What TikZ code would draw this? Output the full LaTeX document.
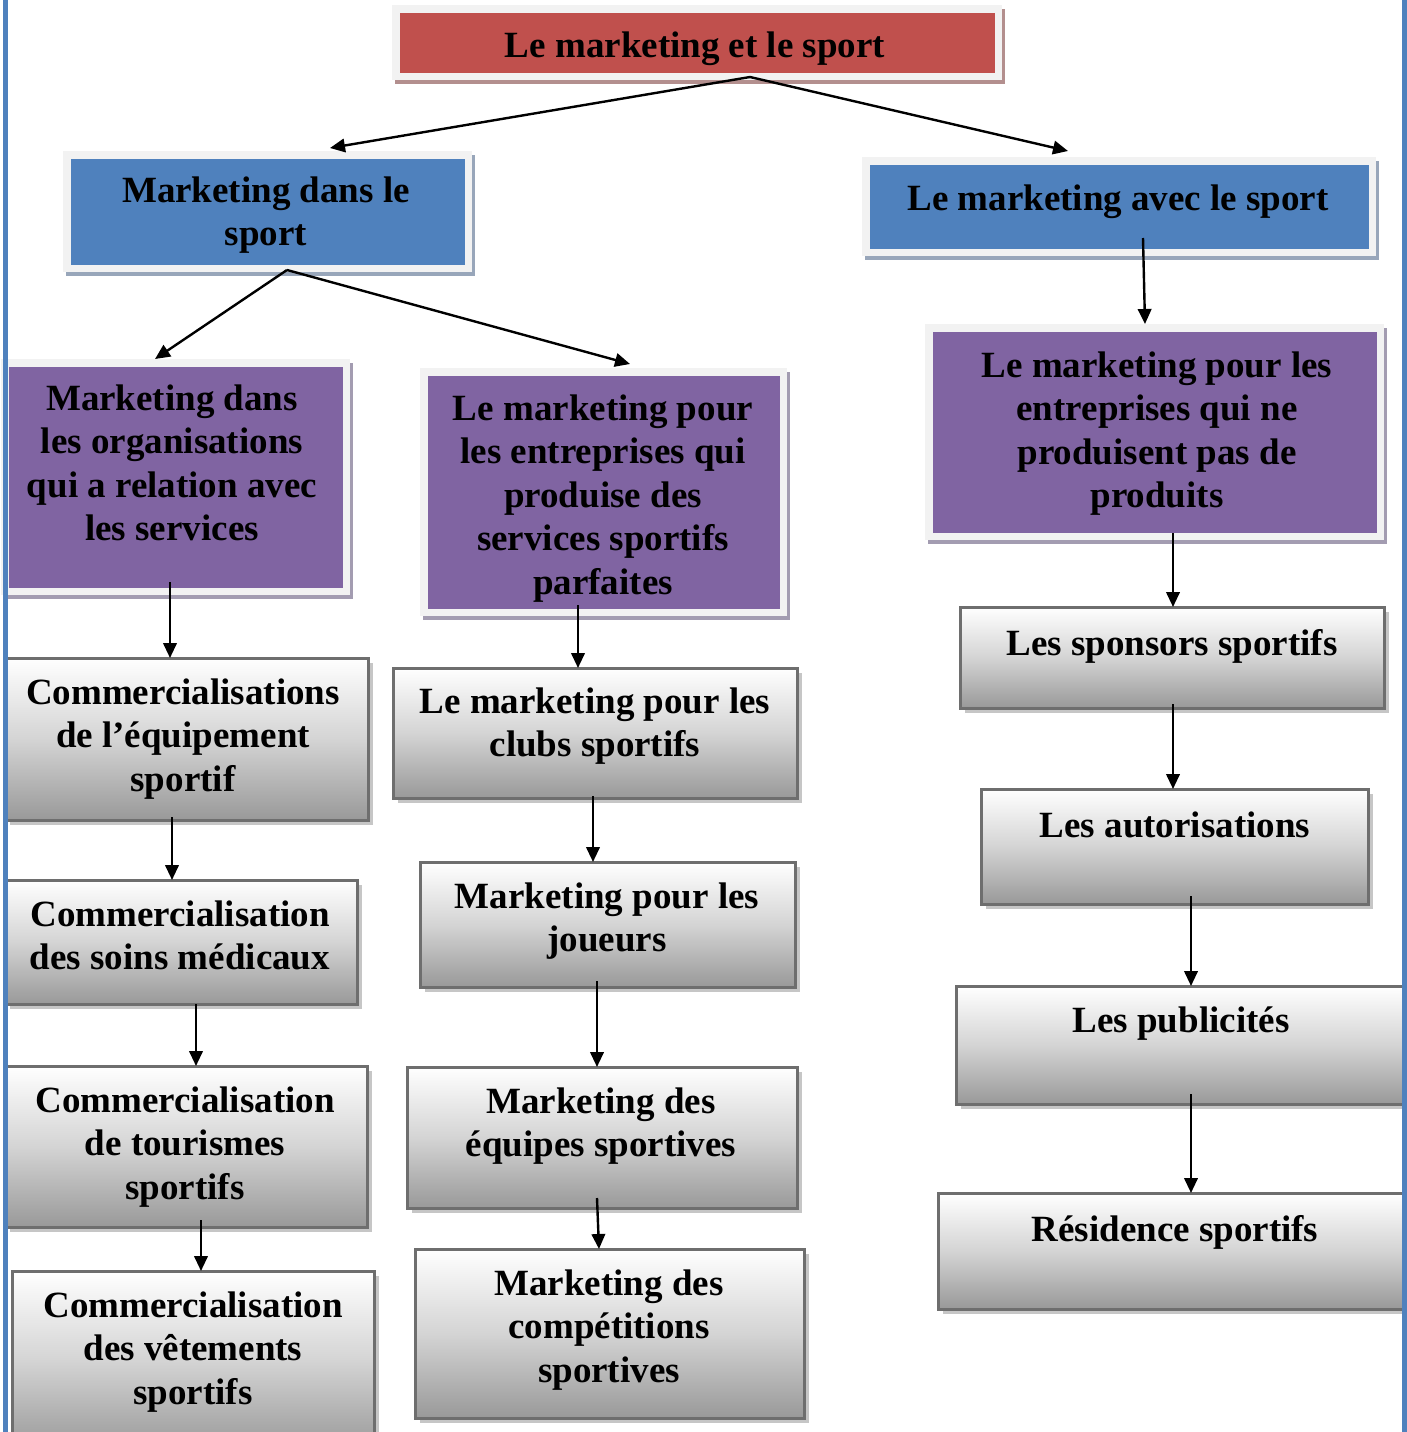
\documentclass[tikz,border=0pt]{standalone}
\usepackage{fontspec}
\setmainfont{Liberation Serif}
\usetikzlibrary{arrows.meta,shadows}

\definecolor{titlered}{HTML}{C0504D}
\definecolor{headblue}{HTML}{4F81BD}
\definecolor{subpurple}{HTML}{8064A2}
\definecolor{framegray}{HTML}{F2F2F2}
\definecolor{redshadow}{HTML}{B38F8E}
\definecolor{blueshadow}{HTML}{98A6BA}
\definecolor{purpleshadow}{HTML}{A39CB1}
\definecolor{boxedge}{HTML}{6E6E6E}
\definecolor{boxmid}{HTML}{D4D4D4}
\definecolor{boxbottom}{HTML}{999999}
\definecolor{boxshadow}{HTML}{C6C6C6}
\definecolor{pageline}{HTML}{4F81BD}

\tikzset{
  colorbox/.style 2 args={rectangle, anchor=north west, inner sep=0pt, outer sep=0pt,
    fill=framegray,
    drop shadow={shadow xshift=3pt, shadow yshift=-4pt, fill=#2, opacity=1},
    path picture={\fill[#1]
      ([shift={(7.5pt,-7.5pt)}]path picture bounding box.north west) rectangle
      ([shift={(-7.5pt,7.5pt)}]path picture bounding box.south east);}},
  graybox/.style={rectangle, anchor=north west, inner sep=0pt, outer sep=0pt,
    draw=boxedge, line width=3pt,
    top color=white, bottom color=boxbottom, middle color=boxmid,
    drop shadow={shadow xshift=5pt, shadow yshift=-5pt, fill=boxshadow, opacity=1}},
  boxtext/.style={anchor=north, inner sep=0pt, align=center,
    font=\fontsize{37}{43.5}\selectfont\bfseries},
  link/.style={line width=2.4pt, -{Triangle[length=15pt,width=13.5pt]}},
}

% #1 style, #2 name, #3/#4 top-left corner, #5/#6 bottom-right corner
\newcommand\PlaceBox[6]{%
  \node[#1, minimum width={(#5-#3)*1pt}, minimum height={(#6-#4)*1pt}] (#2) at (#3,#4) {};}
% #1 name, #2 centre x, #3 first baseline, #4 text
\newcommand\BoxText[4]{%
  \node[boxtext] (#1) at (#2,{#3-30}) {\rule{0pt}{30pt}#4};}

\begin{document}
\begin{tikzpicture}[x=1pt,y=-1pt]
\useasboundingbox (0,0) rectangle (1407,1432);

% coloured heading boxes
\PlaceBox{colorbox={titlered}{redshadow}}{top}{392}{5}{1002}{80}
\PlaceBox{colorbox={headblue}{blueshadow}}{mds}{63}{151}{472}{272}
\PlaceBox{colorbox={headblue}{blueshadow}}{mas}{862}{157}{1376}{256}
\PlaceBox{colorbox={subpurple}{purpleshadow}}{pa}{1}{359}{350}{595}
\PlaceBox{colorbox={subpurple}{purpleshadow}}{pb}{420}{368}{787}{616}
\PlaceBox{colorbox={subpurple}{purpleshadow}}{pc}{925}{324}{1384}{540}

% grey leaf boxes, left column
\PlaceBox{graybox}{ga}{5}{658}{368}{820}
\PlaceBox{graybox}{gb}{5}{880}{357}{1004}
\PlaceBox{graybox}{gc}{5}{1066}{367}{1227}
\PlaceBox{graybox}{gd}{12}{1271}{374}{1450}
% middle column
\PlaceBox{graybox}{ma}{393}{668}{797}{798}
\PlaceBox{graybox}{mb}{420}{862}{795}{987}
\PlaceBox{graybox}{mc}{407}{1067}{797}{1208}
\PlaceBox{graybox}{md}{415}{1249}{804}{1418}
% right column
\PlaceBox{graybox}{ra}{960}{607}{1384}{708}
\PlaceBox{graybox}{rb}{981}{789}{1368}{904}
\PlaceBox{graybox}{rc}{956}{986}{1410}{1104}
\PlaceBox{graybox}{rd}{938}{1193}{1410}{1309}

% texts
\BoxText{ttop}{695}{57}{Le marketing et le sport}
\BoxText{tmds}{266}{202}{Marketing dans le\\sport}
\BoxText{tmas}{1118}{210}{Le marketing avec le sport}
\BoxText{tpa}{172}{410}{Marketing dans\\les organisations\\qui a relation avec\\les services}
\BoxText{tpb}{603}{420}{Le marketing pour\\les entreprises qui\\produise des\\services sportifs\\parfaites}
\BoxText{tpc}{1157}{377}{Le marketing pour les\\entreprises qui ne\\produisent pas de\\produits}
\BoxText{tga}{183}{704}{Commercialisations\\de l’équipement\\sportif}
\BoxText{tgb}{180}{926}{Commercialisation\\des soins médicaux}
\BoxText{tgc}{185}{1112}{Commercialisation\\de tourismes\\sportifs}
\BoxText{tgd}{193}{1317}{Commercialisation\\des vêtements\\sportifs}
\BoxText{tma}{595}{713}{Le marketing pour les\\clubs sportifs}
\BoxText{tmb}{607}{908}{Marketing pour les\\joueurs}
\BoxText{tmc}{601}{1113}{Marketing des\\équipes sportives}
\BoxText{tmd}{609}{1295}{Marketing des\\compétitions\\sportives}
\BoxText{tra}{1172}{655}{Les sponsors sportifs}
\BoxText{trb}{1175}{837}{Les autorisations}
\BoxText{trc}{1181}{1032}{Les publicités}
\BoxText{trd}{1175}{1241}{Résidence sportifs}

% connectors
\draw[link] ([xshift=53pt,yshift=3pt]top.south) -- ([xshift=62.5pt,yshift=3pt]mds.north);
\draw[link] ([xshift=53pt,yshift=3pt]top.south) -- ([xshift=-51pt,yshift=6pt]mas.north);
\draw[link] ([xshift=24pt,yshift=18pt]mas.south) -- ([xshift=-9.5pt]pc.north);
\draw[link] ([xshift=19.5pt,yshift=2pt]mds.south) -- ([xshift=-20.5pt]pa.north);
\draw[link] ([xshift=19.5pt,yshift=2pt]mds.south) -- ([xshift=26.5pt,yshift=4pt]pb.north);
\draw[link] ([xshift=-5.5pt,yshift=13pt]pa.south) -- ([xshift=-16.5pt]ga.north);
\draw[link] ([xshift=-25.5pt,yshift=11pt]pb.south) -- ([xshift=-17pt]ma.north);
\draw[link] ([xshift=18.5pt,yshift=7pt]pc.south) -- ([xshift=1pt]ra.north);
\draw[link] ([xshift=-14.5pt,yshift=3pt]ga.south) -- ([xshift=-9pt]gb.north);
\draw[link] ([xshift=15pt]gb.south) -- ([xshift=10pt]gc.north);
\draw[link] ([xshift=15pt,yshift=7pt]gc.south) -- ([xshift=8pt]gd.north);
\draw[link] ([xshift=-2pt,yshift=2pt]ma.south) -- ([xshift=-14.5pt]mb.north);
\draw[link] ([xshift=-10.5pt,yshift=6pt]mb.south) -- ([xshift=-5pt]mc.north);
\draw[link] ([xshift=-5pt,yshift=10pt]mc.south) -- ([xshift=-10.5pt]md.north);
\draw[link] ([xshift=1pt,yshift=4pt]ra.south) -- ([xshift=-1.5pt]rb.north);
\draw[link] ([xshift=16.5pt,yshift=8pt]rb.south) -- ([xshift=8pt]rc.north);
\draw[link] ([xshift=8pt,yshift=10pt]rc.south) -- ([xshift=17pt]rd.north);

% page rules at both sides
\fill[pageline] (3,0) rectangle (8,1432);
\fill[pageline] (1402,0) rectangle (1407,1432);
\end{tikzpicture}
\end{document}
